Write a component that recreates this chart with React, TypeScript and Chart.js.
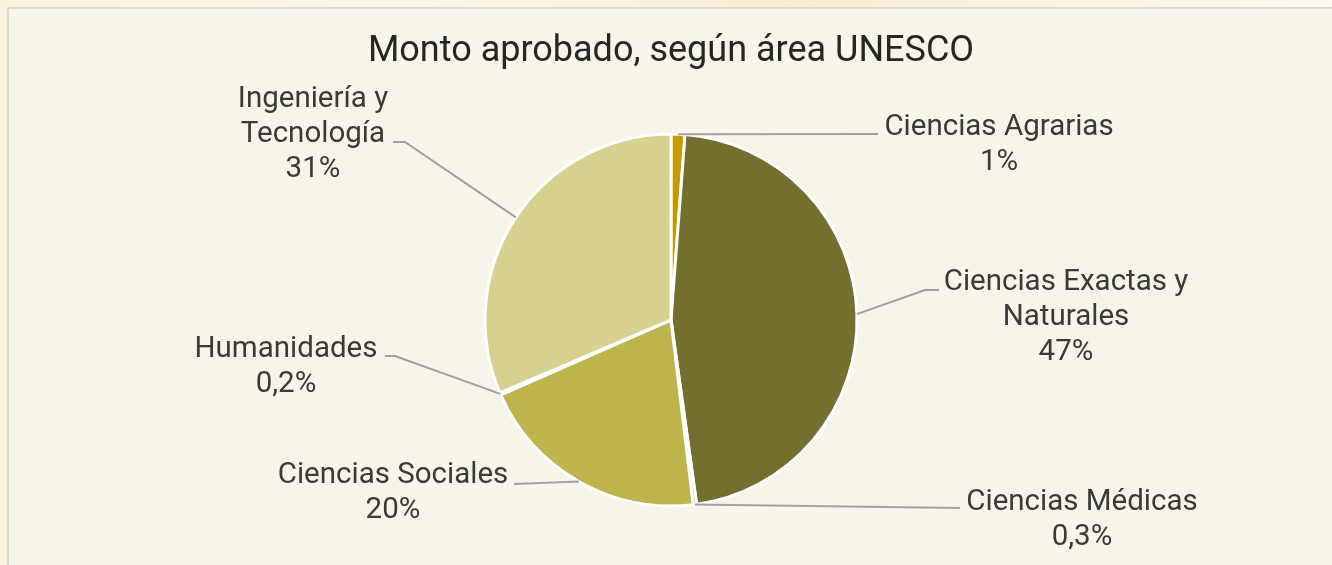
import React, { useEffect, useRef } from "react";
import { Chart, registerables } from "chart.js";

Chart.register(...registerables);

const titleText = "Monto aprobado, según área UNESCO";
const categories = [
  "Ciencias Agrarias",
  "Ciencias Exactas y Naturales",
  "Ciencias Médicas",
  "Ciencias Sociales",
  "Humanidades",
  "Ingeniería y Tecnología",
];
const values = [1.2, 46.6, 0.3, 20.3, 0.2, 31.4];
const percentLabels = ["1%", "47%", "0,3%", "20%", "0,2%", "31%"];
const labelLines = [
  ["Ciencias Agrarias"],
  ["Ciencias Exactas y", "Naturales"],
  ["Ciencias Médicas"],
  ["Ciencias Sociales"],
  ["Humanidades"],
  ["Ingeniería y", "Tecnología"],
];
const sliceColors = ["#c59a00", "#736f2e", "#a39f5a", "#bdb54b", "#e2dcae", "#d6d18f"];

// label layout, offsets relative to the pie centre
const labelLayout = [
  { tx: 328, ty: -185, pts: [[207, -186]] },
  { tx: 395, ty: -30, pts: [[254, -30], [268, -30]] },
  { tx: 411, ty: 190, pts: [[289, 188]] },
  { tx: -278, ty: 163, pts: [[-157, 164]] },
  { tx: -385, ty: 37, pts: [[-276, 36], [-286, 36]] },
  { tx: -358, ty: -213, pts: [[-266, -178], [-278, -178]] },
];

const LABEL_FONT = "29.5px Roboto";
const LINE_H = 35;

const labelPlugin = {
  id: "pieLabels",
  afterDraw(chart: any) {
    const ctx = chart.ctx;
    const meta = chart.getDatasetMeta(0);
    ctx.save();
    meta.data.forEach((arc: any, i: number) => {
      const { x, y, startAngle, endAngle, outerRadius } = arc.getProps(
        ["x", "y", "startAngle", "endAngle", "outerRadius"],
        true
      );
      const mid = (startAngle + endAngle) / 2;
      const sx = x + Math.cos(mid) * outerRadius;
      const sy = y + Math.sin(mid) * outerRadius;
      const lay = labelLayout[i];
      ctx.strokeStyle = "#a0a0a0";
      ctx.lineWidth = 2;
      ctx.beginPath();
      ctx.moveTo(sx, sy);
      lay.pts.forEach((p) => ctx.lineTo(x + p[0], y + p[1]));
      ctx.stroke();

      ctx.fillStyle = "#3a3a3a";
      ctx.font = LABEL_FONT;
      ctx.textAlign = "center";
      ctx.textBaseline = "alphabetic";
      const lines = [...labelLines[i], percentLabels[i]];
      lines.forEach((t, k) => {
        ctx.fillText(t, x + lay.tx, y + lay.ty + k * LINE_H);
      });
    });
    ctx.restore();
  },
};

export default function App() {
  const ref = useRef<HTMLCanvasElement | null>(null);

  useEffect(() => {
    if (!ref.current) return;
    const chart = new Chart(ref.current, {
      type: "pie",
      data: {
        labels: categories,
        datasets: [
          {
            data: values,
            backgroundColor: sliceColors,
            borderColor: "#ffffff",
            borderWidth: 3,
            hoverBorderWidth: 3,
            hoverOffset: 0,
          },
        ],
      },
      options: {
        responsive: false,
        animation: false,
        events: [],
        layout: { padding: { left: 10, right: 0, top: 0, bottom: 57.5 } },
        plugins: {
          legend: { display: false },
          tooltip: { enabled: false },
          title: {
            display: true,
            text: titleText,
            color: "#262626",
            font: { family: "Roboto", size: 36, weight: "normal", lineHeight: 1.2 },
            padding: { top: 30, bottom: 59.3 },
          },
        },
      },
      plugins: [labelPlugin],
    });
    return () => chart.destroy();
  }, []);

  return (
    <div
      style={{
        position: "fixed",
        left: 0,
        top: 0,
        width: 1332,
        height: 565,
        overflow: "hidden",
        background: "linear-gradient(90deg, #f8f1dc 0%, #fbf7ea 30%, #f6ecd0 60%, #fdfaf1 100%)",
      }}
    >
      <div
        style={{
          position: "absolute",
          left: 7,
          top: 7,
          width: 1340,
          height: 580,
          background: "#f7f5e9",
          border: "2px solid #d9d9d9",
          boxSizing: "border-box",
        }}
      />
      <canvas
        ref={ref}
        width={1332}
        height={565}
        style={{ position: "absolute", left: 0, top: 0, width: 1332, height: 565 }}
      />
    </div>
  );
}
